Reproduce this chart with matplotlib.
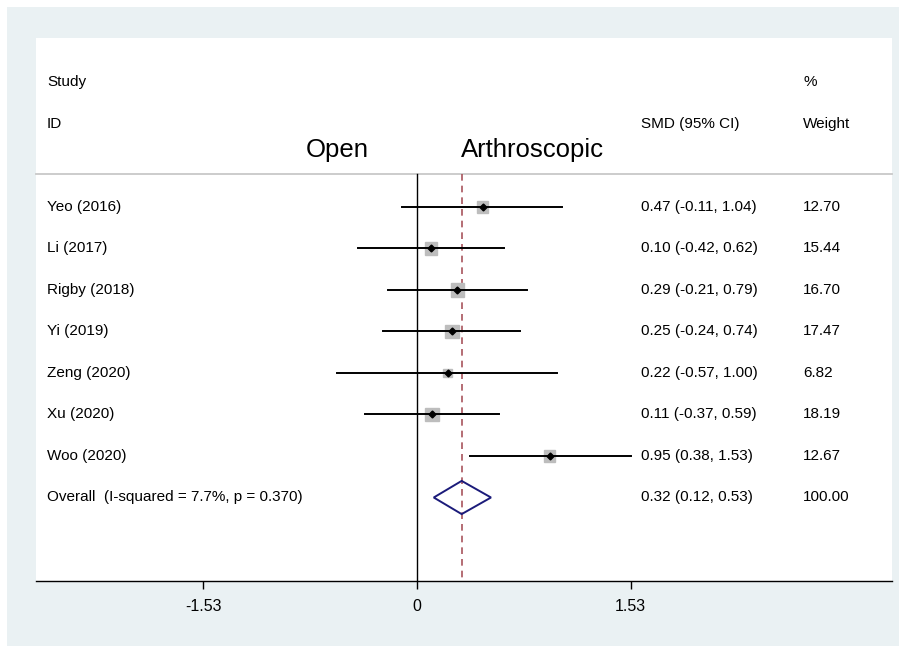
import matplotlib.pyplot as plt
from matplotlib.patches import Rectangle, Polygon

plt.rcParams['font.family'] = ['Liberation Sans', 'DejaVu Sans']

studies = ['Yeo (2016)', 'Li (2017)', 'Rigby (2018)', 'Yi (2019)',
           'Zeng (2020)', 'Xu (2020)', 'Woo (2020)']
smd = [0.47, 0.10, 0.29, 0.25, 0.22, 0.11, 0.95]
lo = [-0.11, -0.42, -0.21, -0.24, -0.57, -0.37, 0.38]
hi = [1.04, 0.62, 0.79, 0.74, 1.00, 0.59, 1.53]
weight = [12.70, 15.44, 16.70, 17.47, 6.82, 18.19, 12.67]
overall = (0.32, 0.12, 0.53)
overall_label = 'Overall  (I-squared = 7.7%, p = 0.370)'
xticks = [-1.53, 0, 1.53]

W, H = 899, 646
fig = plt.figure(figsize=(W / 100, H / 100), dpi=100)
fig.patch.set_facecolor('white')

# stata grey-blue outer region
bg = fig.add_axes([7 / W, 0, (W - 7) / W, (H - 7) / H], zorder=-1)
bg.axis('off')
bg.add_patch(Rectangle((0, 0), 1, 1, transform=bg.transAxes, color='#EAF1F3'))

left, right, top, bottom = 36, 892, 38, 581
ax = fig.add_axes([left / W, 1 - bottom / H, (right - left) / W, (bottom - top) / H],
                  zorder=1)
ax.set_facecolor('white')

px = 139.6  # pixels per unit
x0 = 417
ax.set_xlim((left - x0) / px, (right - x0) / px)
row = 41.5
y0 = 207
ax.set_ylim((bottom - y0) / row, (top - y0) / row)

for s in ['top', 'right', 'left']:
    ax.spines[s].set_visible(False)
ax.spines['bottom'].set_linewidth(1.0)
ax.set_yticks([])
ax.set_xticks(xticks)
ax.set_xticklabels(['-1.53', '0', '1.53'], fontsize=11.5)
ax.tick_params(axis='x', length=6, width=1, pad=7)

xl = ax.get_xlim()
def xpos(px_x):
    return (px_x - x0) / px

fs = 11
sep = (174 - y0) / row
ax.plot(xl, [sep, sep], color='#C8C8C8', lw=1.3, clip_on=False)

ax.text(xpos(47), -3.01, 'Study', fontsize=fs, va='center')
ax.text(xpos(47), -2.0, 'ID', fontsize=fs, va='center')
ax.text(xpos(641), -2.0, 'SMD (95% CI)', fontsize=fs, va='center')
ax.text(xpos(803), -3.01, '%', fontsize=fs, va='center')
ax.text(xpos(803), -2.0, 'Weight', fontsize=fs, va='center')
ax.text(xpos(337), -1.37, 'Open', fontsize=18.5, va='center', ha='center')
ax.text(xpos(532), -1.37, 'Arthroscopic', fontsize=18.5, va='center', ha='center')

ymax = (bottom - y0) / row
ax.plot([0, 0], [sep, ymax], color='black', lw=1.0)
ax.plot([overall[0], overall[0]], [sep, ymax], color='#A8545C', lw=1.2,
        dashes=(4, 3))

for i, name in enumerate(studies):
    ax.plot([lo[i], hi[i]], [i, i], color='black', lw=1.4, zorder=3)
    side = 11.5 * (weight[i] / 12.7) ** 0.5 / px
    sy = side * px / row
    ax.add_patch(Rectangle((smd[i] - side / 2, i - sy / 2), side, sy,
                           color='#BDBDBD', zorder=2))
    ax.plot(smd[i], i, marker='D', color='black', ms=3.5, zorder=4)
    ax.text(xpos(47), i, name, fontsize=fs, va='center')
    ax.text(xpos(641), i, '%.2f (%.2f, %.2f)' % (smd[i], lo[i], hi[i]),
            fontsize=fs, va='center')
    ax.text(xpos(803), i, '%.2f' % weight[i], fontsize=fs, va='center')

k = len(studies)
est, clo, chi = overall
ax.add_patch(Polygon([[clo, k], [est, k - 0.4], [chi, k], [est, k + 0.4]],
                     closed=True, fill=False, edgecolor='#1B1B7A', lw=1.4, zorder=5))
ax.text(xpos(47), k, overall_label, fontsize=fs, va='center')
ax.text(xpos(641), k, '%.2f (%.2f, %.2f)' % overall, fontsize=fs, va='center')
ax.text(xpos(803), k, '100.00', fontsize=fs, va='center')

fig.savefig('out.png', dpi=100)
